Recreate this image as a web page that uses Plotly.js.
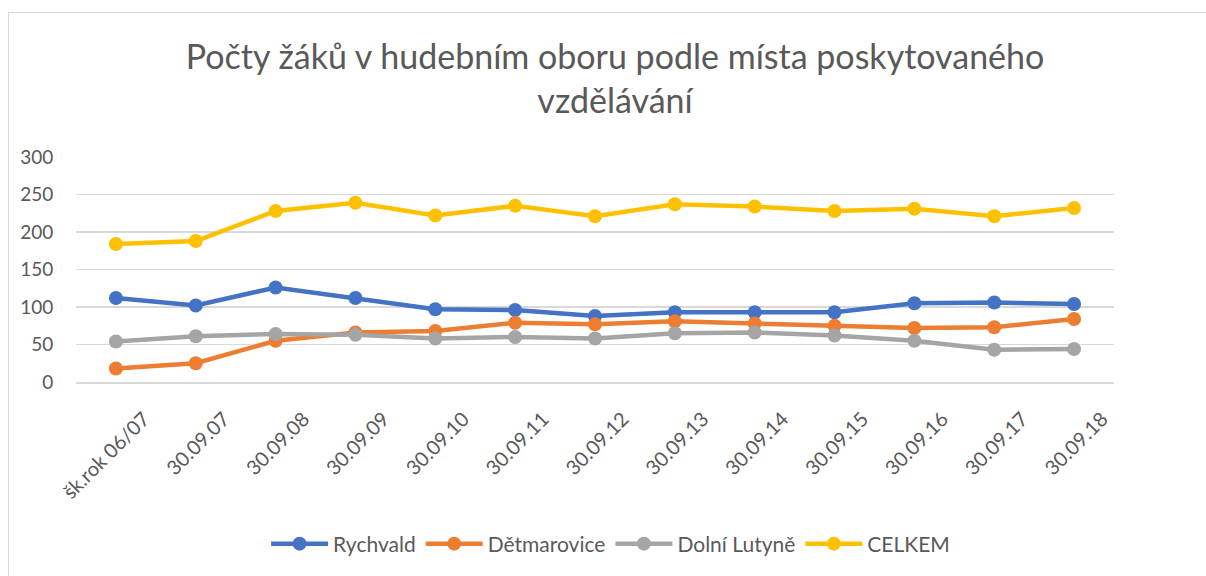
<!DOCTYPE html>
<html>
<head>
<meta charset="utf-8">
<script src="https://cdn.plot.ly/plotly-3.0.1.min.js"></script>
<style>
html,body{margin:0;padding:0;background:#fff;}
#wrap{position:relative;width:1206px;height:576px;overflow:hidden;}
#chart{width:1206px;height:576px;}
#frame{position:absolute;left:8px;top:12px;width:1210px;height:580px;border:1.5px solid #d9d9d9;pointer-events:none;}
</style>
</head>
<body>
<div id="wrap"><div id="chart"></div><div id="frame"></div></div>
<script>
const categories = ["šk.rok 06/07","30.09.07","30.09.08","30.09.09","30.09.10","30.09.11","30.09.12","30.09.13","30.09.14","30.09.15","30.09.16","30.09.17","30.09.18"];
const rychvald = [112,102,126,112,97,96,88,93,93,93,105,106,104];
const detmarovice = [18,25,55,66,68,79,77,81,78,75,72,73,84];
const dolniLutyne = [54,61,64,63,58,60,58,65,66,62,55,43,44];
const celkem = [184,188,228,239,222,235,221,237,234,228,231,221,232];
const seriesNames = ["Rychvald","Dětmarovice","Dolní Lutyně","CELKEM"];
const colors = ["#4472c4","#ed7d31","#a5a5a5","#ffc000"];
const allValues = [rychvald, detmarovice, dolniLutyne, celkem];

const font = "Lato, 'Open Sans', sans-serif";
const traces = allValues.map((vals, i) => ({
  type: "scatter",
  mode: "lines+markers",
  name: seriesNames[i],
  x: categories,
  y: vals,
  line: {color: colors[i], width: 4.5},
  marker: {color: colors[i], size: 14},
  hoverinfo: "x+y+name"
}));

const layout = {
  width: 1206, height: 576,
  paper_bgcolor: "#fff", plot_bgcolor: "#fff",
  margin: {l: 76, r: 92, t: 157, b: 194},
  title: {
    text: "Počty žáků v hudebním oboru podle místa poskytovaného<br>vzdělávání",
    font: {family: font, size: 34, color: "#595959"},
    x: 0.51, xanchor: "center", y: 0.88, yanchor: "top"
  },
  xaxis: {
    type: "category",
    range: [-0.5, 12.5],
    tickangle: -45,
    tickfont: {family: font, size: 20, color: "#595959"},
    showgrid: false, zeroline: false,
    showline: true, linecolor: "#d9d9d9", linewidth: 1.5,
    ticks: "outside", ticklen: 16, tickcolor: "rgba(0,0,0,0)",
    ticklabelshift: 28
  },
  yaxis: {
    range: [0, 300],
    dtick: 50,
    tickfont: {family: font, size: 19, color: "#595959"},
    gridcolor: "#d9d9d9", gridwidth: 1.5,
    zeroline: false, showline: false,
    ticks: "outside", ticklen: 18, tickcolor: "rgba(0,0,0,0)"
  },
  legend: {
    orientation: "h",
    x: 0.515, xanchor: "center",
    y: -0.72, yanchor: "middle",
    font: {family: font, size: 21, color: "#595959"},
    itemwidth: 57
  },
  showlegend: true
};

Plotly.newPlot("chart", traces, layout, {displayModeBar: false, staticPlot: true});
</script>
</body>
</html>
